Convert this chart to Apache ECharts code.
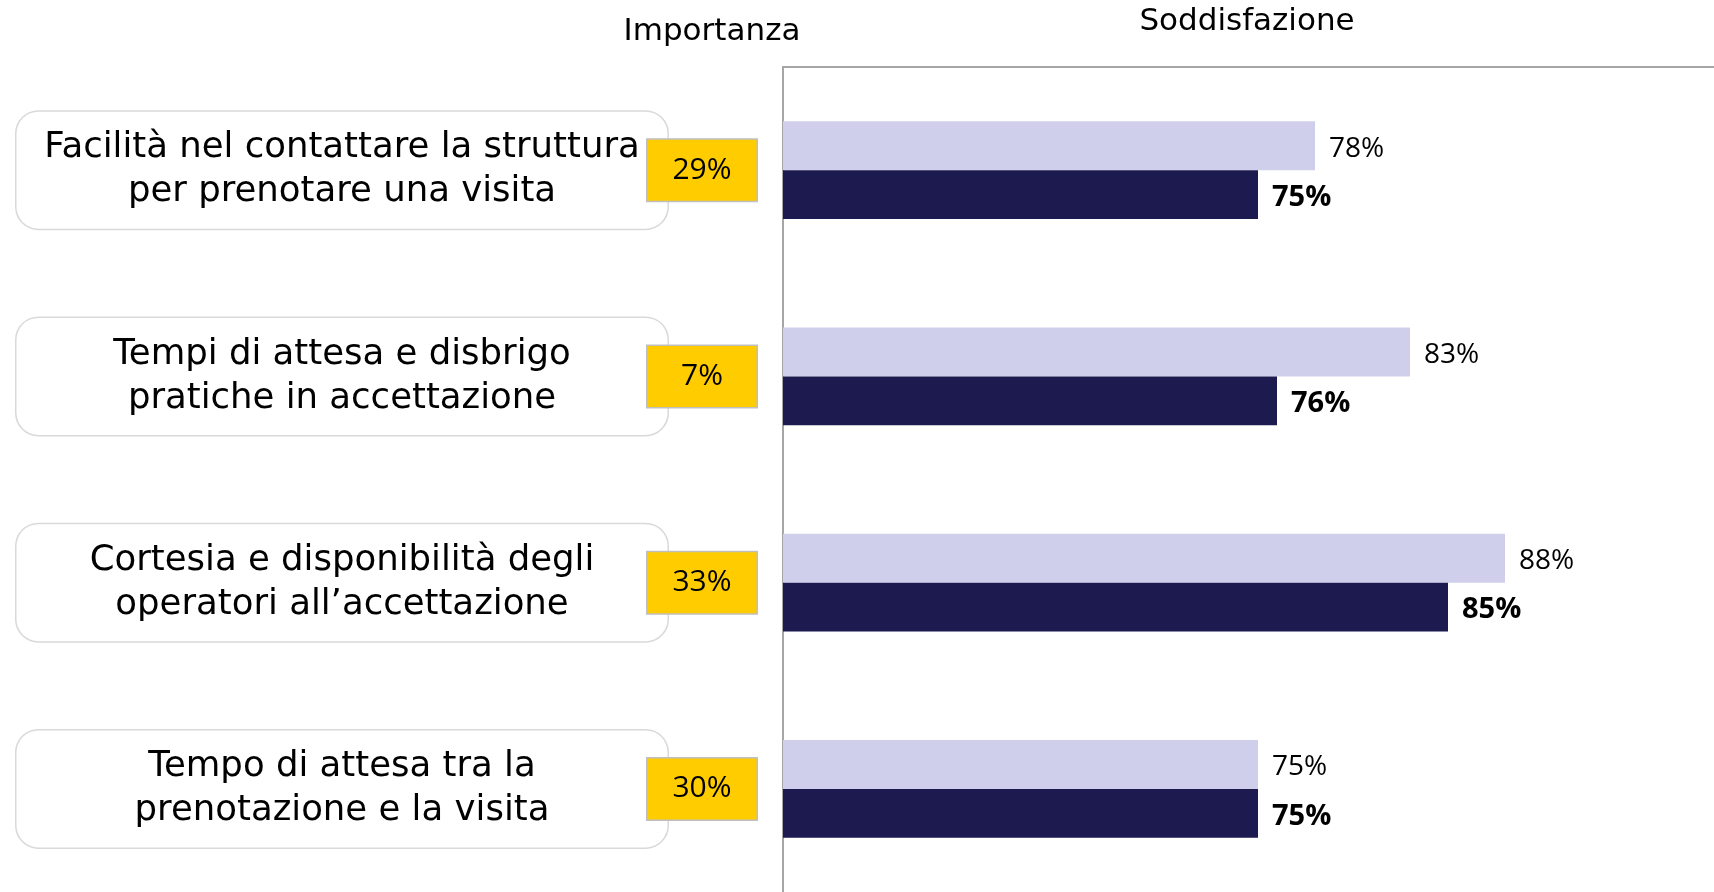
<!DOCTYPE html>
<html>
<head>
<meta charset="utf-8">
<script src="https://cdn.jsdelivr.net/npm/echarts@6/dist/echarts.min.js"></script>
<style>
html,body{margin:0;padding:0;background:#fff;}
#chart{width:1714px;height:892px;}
</style>
</head>
<body>
<div id="chart"></div>
<script>
const categories = [
  'Facilità nel contattare la struttura\nper prenotare una visita',
  'Tempi di attesa e disbrigo\npratiche in accettazione',
  'Cortesia e disponibilità degli\noperatori all’accettazione',
  'Tempo di attesa tra la\nprenotazione e la visita'
];
const importanza = [29, 7, 33, 30];
const soddisfazioneA = [78, 83, 88, 75];
const soddisfazioneB = [75, 76, 85, 75];

const FONT = 'Open Sans';
const WIDE = 'DejaVu Sans';
const chart = echarts.init(document.getElementById('chart'));
chart.setOption({
  animation: false,
  backgroundColor: '#fff',
  textStyle: { fontFamily: FONT },
  title: [
    { text: 'Importanza', left: 712, top: 17, padding: 0, textAlign: 'center',
      textStyle: { fontFamily: WIDE, fontWeight: 'normal', fontSize: 31, lineHeight: 30, color: '#000' } },
    { text: 'Soddisfazione', left: 1247, top: 7, padding: 0, textAlign: 'center',
      textStyle: { fontFamily: WIDE, fontWeight: 'normal', fontSize: 31, lineHeight: 30, color: '#000' } }
  ],
  grid: { left: 783, top: 67, right: 0, height: 828, containLabel: false },
  xAxis: {
    type: 'value', min: 50, max: 99, position: 'top',
    axisLine: { show: true, lineStyle: { color: '#A6A6A6', width: 2 } },
    axisTick: { show: false }, axisLabel: { show: false }, splitLine: { show: false }
  },
  yAxis: [
    {
      type: 'category', data: categories, inverse: true, position: 'left',
      axisLine: { show: true, lineStyle: { color: '#A6A6A6', width: 2 } },
      axisTick: { show: false },
      axisLabel: {
        interval: 0, margin: 441, align: 'center', verticalAlign: 'middle',
        fontFamily: WIDE, fontSize: 35.5, lineHeight: 44, color: '#000',
        width: 651, height: 117, overflow: 'none',
        backgroundColor: '#fff', borderColor: '#D9D9D9', borderWidth: 1.5, borderRadius: 22
      }
    },
    {
      type: 'category', data: importanza, inverse: true, position: 'left',
      axisLine: { show: false }, axisTick: { show: false },
      axisLabel: {
        interval: 0, margin: 81, align: 'center', verticalAlign: 'middle',
        formatter: v => v + '%',
        fontFamily: FONT, fontSize: 30, color: '#000',
        width: 109, height: 61, lineHeight: 61,
        backgroundColor: '#FFCC00', borderColor: '#BFBFBF', borderWidth: 1.5
      }
    }
  ],
  series: [
    {
      name: 'Soddisfazione A', type: 'bar', yAxisIndex: 0, data: soddisfazioneA,
      barGap: '0%', barCategoryGap: '52.5%',
      itemStyle: { color: '#CFCFEC' },
      label: { show: true, position: 'right', distance: 14, offset: [0, 3], formatter: p => p.value + '%',
        fontFamily: FONT, fontSize: 28, color: '#000' }
    },
    {
      name: 'Soddisfazione B', type: 'bar', yAxisIndex: 0, data: soddisfazioneB,
      barGap: '0%', barCategoryGap: '52.5%',
      itemStyle: { color: '#1C1A4E' },
      label: { show: true, position: 'right', distance: 14, offset: [0, 3], formatter: p => p.value + '%',
        fontFamily: FONT, fontSize: 29, fontWeight: 'bold', color: '#000' }
    }
  ]
});
</script>
</body>
</html>
